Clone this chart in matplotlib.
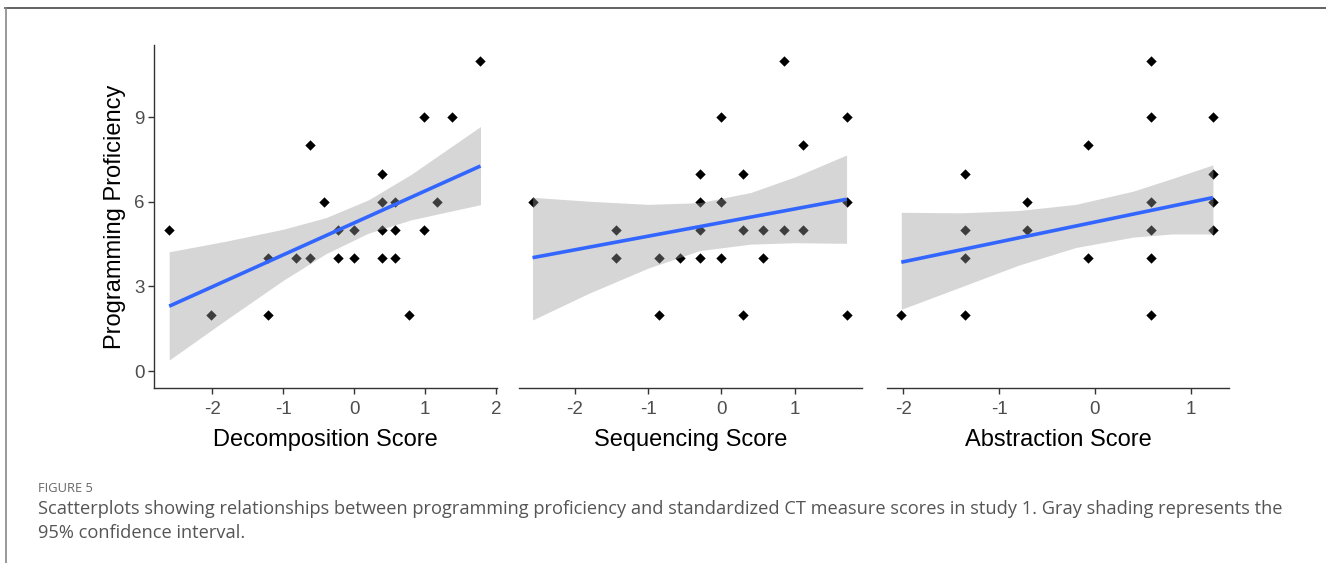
import matplotlib

matplotlib.use("Agg")
import matplotlib.pyplot as plt
from matplotlib.lines import Line2D

plt.rcParams["font.family"] = ["Liberation Sans", "DejaVu Sans"]

# --- data ---------------------------------------------------------------
prof_label = "Programming Proficiency"

dec_x = [-2.61, -2.02, -1.22, -1.22, -0.82, -0.63, -0.63, -0.42, -0.23, -0.23,
         -0.01, -0.01, 0.39, 0.39, 0.39, 0.39, 0.57, 0.57, 0.57, 0.77,
         0.98, 0.98, 1.16, 1.38, 1.78]
dec_y = [5, 2, 2, 4, 4, 4, 8, 6, 5, 4,
         5, 4, 7, 6, 5, 4, 6, 5, 4, 2,
         9, 5, 6, 9, 11]
dec_fit_x = [-2.61, 1.78]
dec_fit_y = [2.30, 7.27]
dec_band_x = [-2.61, -1.8, -1.0, -0.4, 0.2, 0.8, 1.78]
dec_band_lo = [0.39, 1.83, 3.22, 4.16, 4.89, 5.36, 5.90]
dec_band_hi = [4.23, 4.61, 5.03, 5.44, 6.07, 6.97, 8.67]

seq_x = [-2.58, -1.44, -1.44, -0.85, -0.85, -0.57, -0.29, -0.29, -0.29, -0.29,
         0.00, 0.00, 0.00, 0.29, 0.29, 0.29, 0.57, 0.57, 0.85, 0.85,
         1.11, 1.11, 1.71, 1.71, 1.71]
seq_y = [6, 5, 4, 4, 2, 4, 7, 6, 5, 4,
         9, 6, 4, 7, 5, 2, 5, 4, 5, 11,
         8, 5, 9, 6, 2]
seq_fit_x = [-2.58, 1.71]
seq_fit_y = [4.02, 6.09]
seq_band_x = [-2.58, -1.8, -1.0, -0.3, 0.4, 1.0, 1.71]
seq_band_lo = [1.81, 2.77, 3.65, 4.27, 4.50, 4.55, 4.53]
seq_band_hi = [6.16, 6.02, 5.91, 5.97, 6.33, 6.88, 7.66]

abs_x = [-2.02, -1.36, -1.36, -1.36, -1.36, -0.71, -0.71, -0.07, -0.07, 0.58,
         0.58, 0.58, 0.58, 0.58, 0.58, 1.23, 1.23, 1.23, 1.23]
abs_y = [2, 7, 5, 4, 2, 6, 5, 8, 4, 11,
         9, 6, 5, 4, 2, 9, 7, 6, 5]
abs_fit_x = [-2.02, 1.23]
abs_fit_y = [3.86, 6.15]
abs_band_x = [-2.02, -1.4, -0.8, -0.2, 0.4, 0.8, 1.23]
abs_band_lo = [2.19, 2.98, 3.75, 4.38, 4.75, 4.86, 4.86]
abs_band_hi = [5.63, 5.61, 5.69, 5.91, 6.38, 6.82, 7.31]

y_ticks = [0, 3, 6, 9]
caption_head = "FIGURE 5"
caption_body = ("Scatterplots showing relationships between programming proficiency "
                "and standardized CT measure scores in study 1. Gray shading represents the\n"
                "95% confidence interval.")

panels = [
    ("Decomposition Score", dec_x, dec_y, dec_fit_x, dec_fit_y,
     dec_band_x, dec_band_lo, dec_band_hi, [-2, -1, 0, 1, 2], (-2.82, 2.01)),
    ("Sequencing Score", seq_x, seq_y, seq_fit_x, seq_fit_y,
     seq_band_x, seq_band_lo, seq_band_hi, [-2, -1, 0, 1], (-2.765, 1.914)),
    ("Abstraction Score", abs_x, abs_y, abs_fit_x, abs_fit_y,
     abs_band_x, abs_band_lo, abs_band_hi, [-2, -1, 0, 1], (-2.172, 1.40)),
]

W, H = 1326, 563
fig = plt.figure(figsize=(W / 100, H / 100), dpi=100)

lefts = [154.3, 519.0, 886.7]
width_px = 342.5
top_px, bottom_px = 45, 388

for i, (xlabel, x, y, fx, fy, bx, lo, hi, xt, xlim) in enumerate(panels):
    ax = fig.add_axes([lefts[i] / W, 1 - bottom_px / H,
                       width_px / W, (bottom_px - top_px) / H])
    ax.scatter(x, y, marker="D", s=28, color="black", linewidths=0, zorder=2)
    ax.fill_between(bx, lo, hi, color="#999999", alpha=0.4, lw=0, zorder=3)
    ax.plot(fx, fy, color="#3366FF", lw=2.6, solid_capstyle="butt", zorder=4)

    ax.set_xlim(*xlim)
    ax.set_ylim(-0.6, 11.56)
    ax.set_xticks(xt)
    ax.set_xticklabels([str(v) for v in xt])
    ax.set_xlabel(xlabel, fontsize=17, labelpad=8)

    for s in ("top", "right"):
        ax.spines[s].set_visible(False)
    for s in ("bottom", "left"):
        ax.spines[s].set_color("#333333")
        ax.spines[s].set_linewidth(1.0)
    ax.tick_params(axis="both", direction="out", length=4, width=1.0,
                   color="#333333", labelcolor="#4d4d4d", labelsize=13.5, pad=5)
    ax.tick_params(axis="y", pad=3)

    if i == 0:
        ax.set_yticks(y_ticks)
        ax.set_ylabel(prof_label, fontsize=17, labelpad=6)
    else:
        ax.spines["left"].set_visible(False)
        ax.set_yticks([])

# caption
fig.text(38 / W, 1 - 488 / H, caption_head, fontsize=9.3, color="#666666",
         family=["Open Sans", "DejaVu Sans"], va="center")
fig.text(38 / W, 1 - 521 / H, caption_body, fontsize=13.15, color="#555555",
         family=["Open Sans", "DejaVu Sans"], va="center", linespacing=1.4)

# frame lines
fig.add_artist(Line2D([5 / W, 1], [1 - 7.5 / H, 1 - 7.5 / H], color="#555555",
                      lw=1.3, transform=fig.transFigure))
fig.add_artist(Line2D([5.5 / W, 5.5 / W], [0, 1 - 7.5 / H], color="#888888",
                      lw=1.2, transform=fig.transFigure))

fig.savefig("out.png", dpi=100)
